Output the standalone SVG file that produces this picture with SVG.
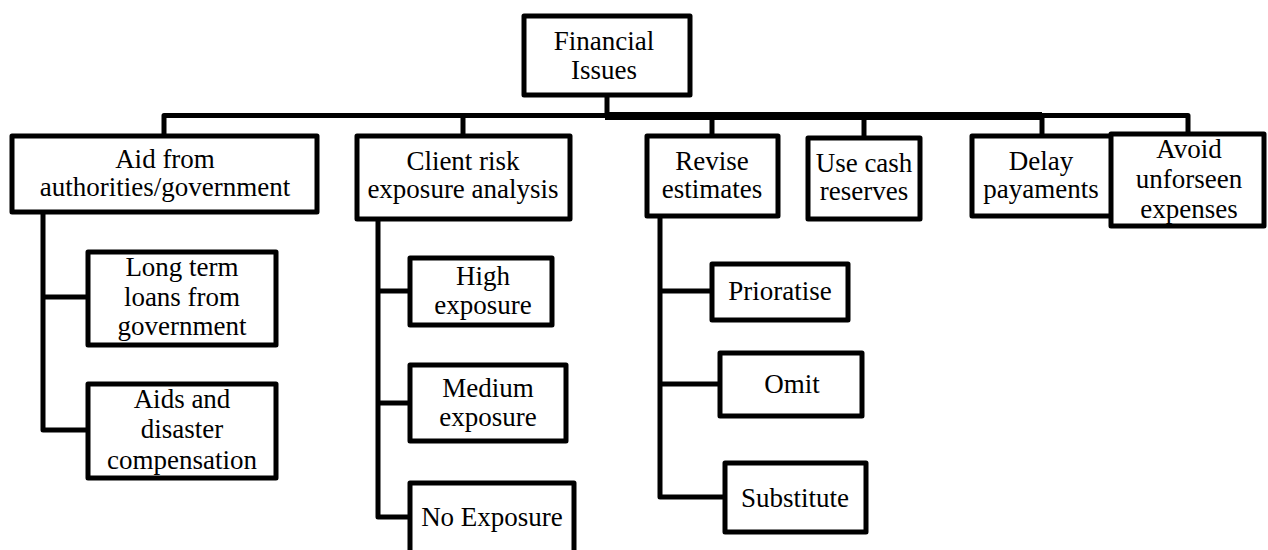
<svg xmlns="http://www.w3.org/2000/svg" width="1268" height="550" viewBox="0 0 1268 550">
  <style>
    .box { fill: #ffffff; stroke: #000000; stroke-width: 5; stroke-linejoin: round; }
    .wire { fill: none; stroke: #000000; stroke-width: 5; stroke-linejoin: round; }
    .trunk { fill: none; stroke: #000000; stroke-width: 8; }
    .lbl { font-family: 'Liberation Serif', 'Times New Roman', 'DejaVu Serif', serif; font-size: 27px; fill: #000000; text-anchor: middle; }
  </style>
  <rect x="0" y="0" width="1268" height="550" fill="#ffffff"/>

  <!-- connectors -->
  <g id="connectors">
    <!-- root stem and main bus -->
    <path class="wire" d="M607 95 V116"/>
    <path class="wire" d="M164 136 V115.5 H1188 V134"/>
    <path class="trunk" d="M605 116 H1042"/>
    <!-- drops to first-level nodes -->
    <path class="wire" d="M463 116 V136"/>
    <path class="wire" d="M712 116 V136"/>
    <path class="wire" d="M864 116 V138"/>
    <path class="wire" d="M1042 116 V136"/>
    <!-- aid branch -->
    <path class="wire" d="M43 212 V430 H88"/>
    <path class="wire" d="M43 297 H88"/>
    <!-- client risk branch -->
    <path class="wire" d="M378 219 V517 H410"/>
    <path class="wire" d="M378 291 H410"/>
    <path class="wire" d="M378 403 H410"/>
    <!-- revise estimates branch -->
    <path class="wire" d="M660 216 V497 H725"/>
    <path class="wire" d="M660 291 H712"/>
    <path class="wire" d="M660 384 H720"/>
  </g>

  <g id="financial-issues">
    <rect class="box" x="524" y="16" width="166" height="79"/>
    <text class="lbl" x="604" y="50">Financial</text>
    <text class="lbl" x="604" y="79">Issues</text>
  </g>

  <g id="aid-authorities">
    <rect class="box" x="12" y="136" width="305" height="76"/>
    <text class="lbl" x="165" y="168">Aid from</text>
    <text class="lbl" x="165" y="196">authorities/government</text>
  </g>

  <g id="client-risk">
    <rect class="box" x="357" y="136" width="213" height="83"/>
    <text class="lbl" x="463" y="170">Client risk</text>
    <text class="lbl" x="463" y="198">exposure analysis</text>
  </g>

  <g id="revise-estimates">
    <rect class="box" x="647" y="136" width="131" height="80"/>
    <text class="lbl" x="712" y="170">Revise</text>
    <text class="lbl" x="712" y="198">estimates</text>
  </g>

  <g id="use-cash">
    <rect class="box" x="808" y="138" width="112" height="81"/>
    <text class="lbl" x="864" y="172">Use cash</text>
    <text class="lbl" x="864" y="200">reserves</text>
  </g>

  <g id="delay-payments">
    <rect class="box" x="972" y="136" width="140" height="80"/>
    <text class="lbl" x="1041" y="170">Delay</text>
    <text class="lbl" x="1041" y="198">payaments</text>
  </g>

  <g id="avoid-expenses">
    <rect class="box" x="1111" y="134" width="153" height="92"/>
    <text class="lbl" x="1189" y="158">Avoid</text>
    <text class="lbl" x="1189" y="188">unforseen</text>
    <text class="lbl" x="1189" y="218">expenses</text>
  </g>

  <g id="long-term-loans">
    <rect class="box" x="88" y="252" width="188" height="93"/>
    <text class="lbl" x="182" y="276">Long term</text>
    <text class="lbl" x="182" y="306">loans from</text>
    <text class="lbl" x="182" y="335">government</text>
  </g>

  <g id="aids-compensation">
    <rect class="box" x="88" y="384" width="188" height="94"/>
    <text class="lbl" x="182" y="408">Aids and</text>
    <text class="lbl" x="182" y="438">disaster</text>
    <text class="lbl" x="182" y="469">compensation</text>
  </g>

  <g id="high-exposure">
    <rect class="box" x="410" y="258" width="142" height="67"/>
    <text class="lbl" x="483" y="285">High</text>
    <text class="lbl" x="483" y="314">exposure</text>
  </g>

  <g id="medium-exposure">
    <rect class="box" x="410" y="365" width="156" height="76"/>
    <text class="lbl" x="488" y="397">Medium</text>
    <text class="lbl" x="488" y="426">exposure</text>
  </g>

  <g id="no-exposure">
    <rect class="box" x="410" y="483" width="164" height="87"/>
    <text class="lbl" x="492" y="526">No Exposure</text>
  </g>

  <g id="prioratise">
    <rect class="box" x="712" y="264" width="136" height="56"/>
    <text class="lbl" x="780" y="300">Prioratise</text>
  </g>

  <g id="omit">
    <rect class="box" x="720" y="353" width="142" height="63"/>
    <text class="lbl" x="792" y="393">Omit</text>
  </g>

  <g id="substitute">
    <rect class="box" x="725" y="463" width="141" height="69"/>
    <text class="lbl" x="795" y="507">Substitute</text>
  </g>
</svg>
